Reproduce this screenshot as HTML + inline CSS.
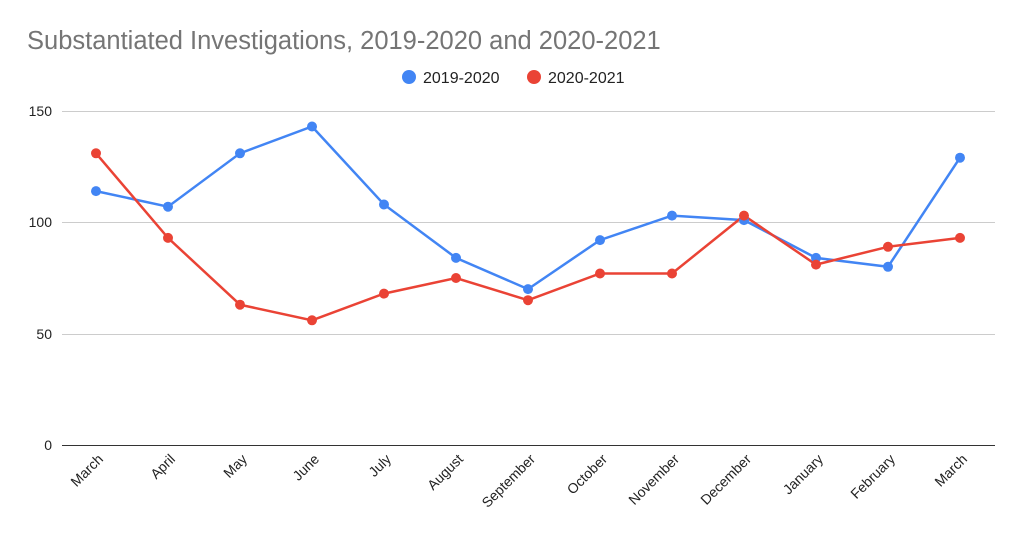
<!DOCTYPE html>
<html><head><style>body{margin:0;background:#fff}</style></head><body>
<svg width="1023" height="539" xmlns="http://www.w3.org/2000/svg" font-family="Liberation Sans, Arial, sans-serif">
<rect width="1023" height="539" fill="#fff"/>
<text x="27" y="49" font-size="25.5" fill="#757575">Substantiated Investigations, 2019-2020 and 2020-2021</text>
<circle cx="409" cy="77" r="7" fill="#4285f4"/>
<text x="423" y="83" font-size="16" fill="#222">2019-2020</text>
<circle cx="534" cy="77" r="7" fill="#ea4335"/>
<text x="548" y="83" font-size="16" fill="#222">2020-2021</text>
<g stroke="#ccc" stroke-width="1">
<line x1="62" y1="111.5" x2="995" y2="111.5"/>
<line x1="62" y1="222.5" x2="995" y2="222.5"/>
<line x1="62" y1="334.5" x2="995" y2="334.5"/>
</g>
<line x1="62" y1="445.5" x2="995" y2="445.5" stroke="#333" stroke-width="1"/>
<g font-size="14" fill="#222" text-anchor="end">
<text x="52" y="116">150</text><text x="52" y="227">100</text><text x="52" y="339">50</text><text x="52" y="450">0</text>
</g>
<polyline fill="none" stroke="#4285f4" stroke-width="2.5" points="96,191.1 168,206.7 240,153.3 312,126.5 384,204.5 456,257.9 528,289.1 600,240.1 672,215.6 744,220.1 816,257.9 888,266.8 960,157.7"/>
<polyline fill="none" stroke="#ea4335" stroke-width="2.5" points="96,153.3 168,237.9 240,304.7 312,320.3 384,293.6 456,278 528,300.2 600,273.5 672,273.5 744,215.6 816,264.6 888,246.8 960,237.9"/>
<g fill="#4285f4">
<circle cx="96" cy="191.1" r="5"/><circle cx="168" cy="206.7" r="5"/><circle cx="240" cy="153.3" r="5"/><circle cx="312" cy="126.5" r="5"/><circle cx="384" cy="204.5" r="5"/><circle cx="456" cy="257.9" r="5"/><circle cx="528" cy="289.1" r="5"/><circle cx="600" cy="240.1" r="5"/><circle cx="672" cy="215.6" r="5"/><circle cx="744" cy="220.1" r="5"/><circle cx="816" cy="257.9" r="5"/><circle cx="888" cy="266.8" r="5"/><circle cx="960" cy="157.7" r="5"/>
</g>
<g fill="#ea4335">
<circle cx="96" cy="153.3" r="5"/><circle cx="168" cy="237.9" r="5"/><circle cx="240" cy="304.7" r="5"/><circle cx="312" cy="320.3" r="5"/><circle cx="384" cy="293.6" r="5"/><circle cx="456" cy="278" r="5"/><circle cx="528" cy="300.2" r="5"/><circle cx="600" cy="273.5" r="5"/><circle cx="672" cy="273.5" r="5"/><circle cx="744" cy="215.6" r="5"/><circle cx="816" cy="264.6" r="5"/><circle cx="888" cy="246.8" r="5"/><circle cx="960" cy="237.9" r="5"/>
</g>
<g font-size="14" fill="#222" text-anchor="end">
<text transform="translate(104,460) rotate(-45)">March</text>
<text transform="translate(176,460) rotate(-45)">April</text>
<text transform="translate(248,460) rotate(-45)">May</text>
<text transform="translate(320,460) rotate(-45)">June</text>
<text transform="translate(392,460) rotate(-45)">July</text>
<text transform="translate(464,460) rotate(-45)">August</text>
<text transform="translate(536,460) rotate(-45)">September</text>
<text transform="translate(608,460) rotate(-45)">October</text>
<text transform="translate(680,460) rotate(-45)">November</text>
<text transform="translate(752,460) rotate(-45)">December</text>
<text transform="translate(824,460) rotate(-45)">January</text>
<text transform="translate(896,460) rotate(-45)">February</text>
<text transform="translate(968,460) rotate(-45)">March</text>
</g>
</svg>
</body></html>
